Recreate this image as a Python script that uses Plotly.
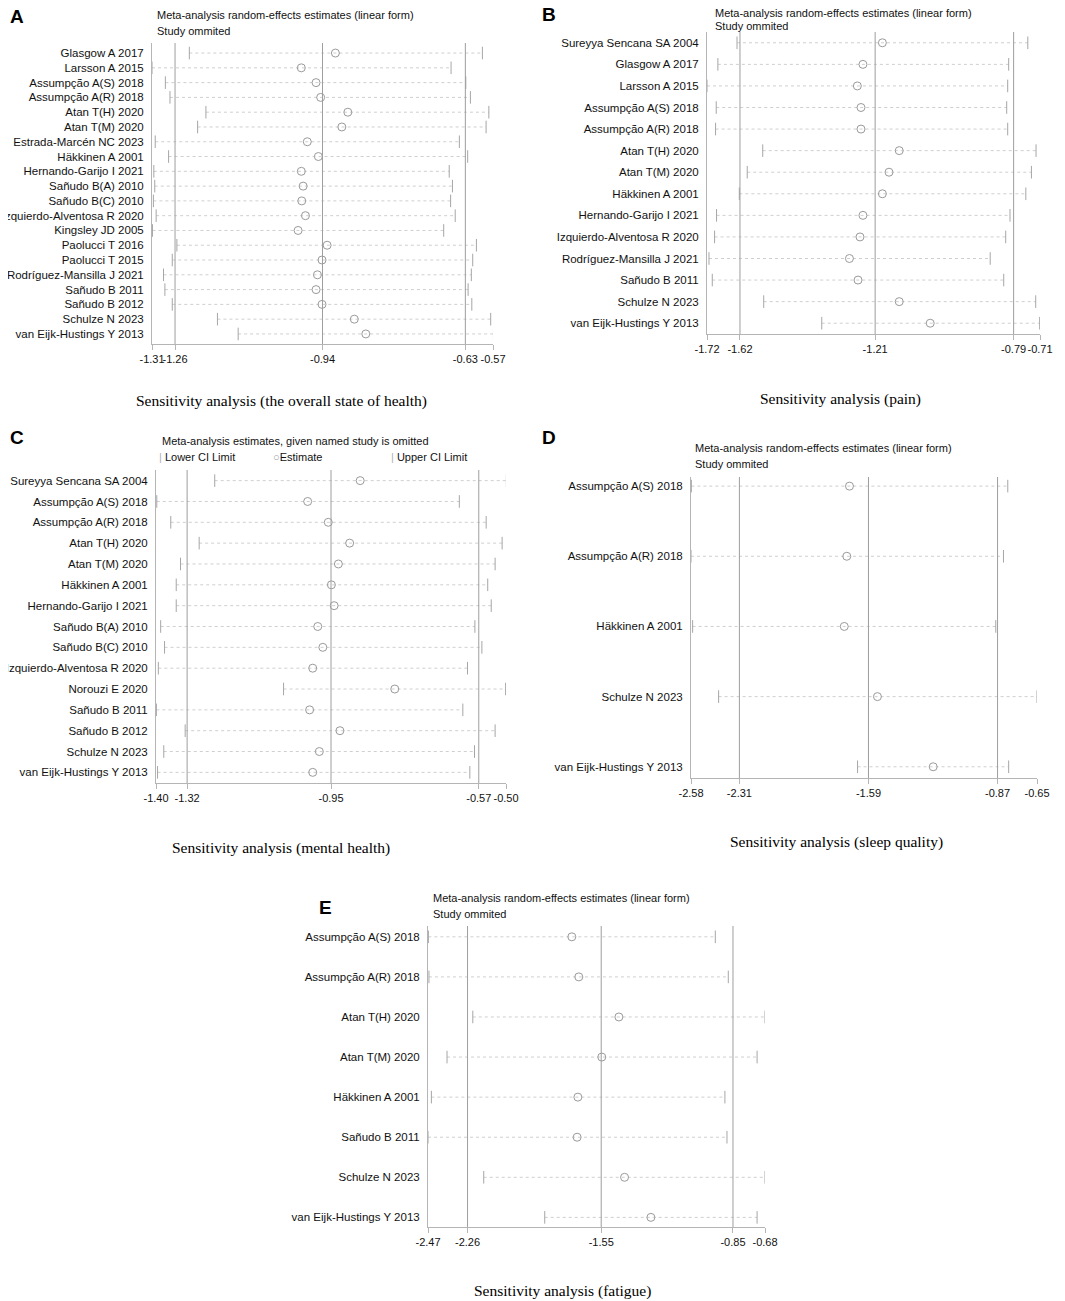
import plotly.graph_objects as go

# the page body adds an 8px margin, so the figure is drawn 8px smaller and
# every reference pixel position is shifted by OFF
OFF = 8
W, H = 1065 - OFF, 1301 - OFF

# ---- data (lower CI, estimate, upper CI) ----
# A: overall state of health
a_names = ["Glasgow A 2017", "Larsson A 2015", "Assumpção A(S) 2018", "Assumpção A(R) 2018",
           "Atan T(H) 2020", "Atan T(M) 2020", "Estrada-Marcén NC 2023", "Häkkinen A 2001",
           "Hernando-Garijo I 2021", "Sañudo B(A) 2010", "Sañudo B(C) 2010",
           "Izquierdo-Alventosa R 2020", "Kingsley JD 2005", "Paolucci T 2016", "Paolucci T 2015",
           "Rodríguez-Mansilla J 2021", "Sañudo B 2011", "Sañudo B 2012", "Schulze N 2023",
           "van Eijk-Hustings Y 2013"]
a_lower = [-1.229, -1.310, -1.281, -1.271, -1.193, -1.211, -1.303, -1.274, -1.306, -1.304,
           -1.307, -1.301, -1.309, -1.256, -1.266, -1.285, -1.282, -1.266, -1.168, -1.123]
a_est = [-0.912, -0.986, -0.954, -0.944, -0.885, -0.898, -0.973, -0.949, -0.986, -0.982,
         -0.985, -0.977, -0.993, -0.930, -0.941, -0.951, -0.954, -0.941, -0.871, -0.846]
a_upper = [-0.593, -0.661, -0.629, -0.619, -0.579, -0.585, -0.643, -0.625, -0.665, -0.658,
           -0.662, -0.652, -0.677, -0.606, -0.614, -0.617, -0.624, -0.616, -0.575, -0.569]
a_range = [-1.31, -0.57]
a_overall = [-1.26, -0.94, -0.63]

# B: pain
b_names = ["Sureyya Sencana SA 2004", "Glasgow A 2017", "Larsson A 2015", "Assumpção A(S) 2018",
           "Assumpção A(R) 2018", "Atan T(H) 2020", "Atan T(M) 2020", "Häkkinen A 2001",
           "Hernando-Garijo I 2021", "Izquierdo-Alventosa R 2020", "Rodríguez-Mansilla J 2021",
           "Sañudo B 2011", "Schulze N 2023", "van Eijk-Hustings Y 2013"]
b_lower = [-1.629, -1.687, -1.720, -1.692, -1.694, -1.551, -1.598, -1.622, -1.691, -1.697,
           -1.714, -1.704, -1.548, -1.372]
b_est = [-1.188, -1.247, -1.264, -1.253, -1.253, -1.137, -1.168, -1.188, -1.247, -1.256,
         -1.288, -1.262, -1.137, -1.043]
b_upper = [-0.747, -0.805, -0.808, -0.811, -0.808, -0.722, -0.736, -0.753, -0.801, -0.814,
           -0.861, -0.820, -0.723, -0.711]
b_range = [-1.72, -0.71]
b_overall = [-1.62, -1.21, -0.79]

# C: mental health
c_names = ["Sureyya Sencana SA 2004", "Assumpção A(S) 2018", "Assumpção A(R) 2018",
           "Atan T(H) 2020", "Atan T(M) 2020", "Häkkinen A 2001", "Hernando-Garijo I 2021",
           "Sañudo B(A) 2010", "Sañudo B(C) 2010", "Izquierdo-Alventosa R 2020", "Norouzi E 2020",
           "Sañudo B 2011", "Sañudo B 2012", "Schulze N 2023", "van Eijk-Hustings Y 2013"]
c_lower = [-1.249, -1.398, -1.362, -1.289, -1.337, -1.348, -1.348, -1.388, -1.378, -1.394,
           -1.072, -1.399, -1.325, -1.380, -1.396]
c_est = [-0.875, -1.010, -0.957, -0.902, -0.931, -0.949, -0.942, -0.984, -0.971, -0.997,
         -0.786, -1.005, -0.927, -0.980, -0.997]
c_upper = [-0.499, -0.620, -0.551, -0.510, -0.528, -0.547, -0.538, -0.580, -0.562, -0.599,
           -0.501, -0.611, -0.528, -0.581, -0.593]
c_range = [-1.40, -0.50]
c_overall = [-1.32, -0.95, -0.57]

# D: sleep quality
d_names = ["Assumpção A(S) 2018", "Assumpção A(R) 2018", "Häkkinen A 2001", "Schulze N 2023",
           "van Eijk-Hustings Y 2013"]
d_lower = [-2.578, -2.580, -2.571, -2.426, -1.651]
d_est = [-1.696, -1.711, -1.725, -1.540, -1.229]
d_upper = [-0.813, -0.837, -0.880, -0.650, -0.808]
d_range = [-2.58, -0.65]
d_overall = [-2.31, -1.59, -0.87]

# E: fatigue
e_names = ["Assumpção A(S) 2018", "Assumpção A(R) 2018", "Atan T(H) 2020", "Atan T(M) 2020",
           "Häkkinen A 2001", "Sañudo B 2011", "Schulze N 2023", "van Eijk-Hustings Y 2013"]
e_lower = [-2.468, -2.465, -2.232, -2.369, -2.452, -2.470, -2.174, -1.850]
e_est = [-1.706, -1.669, -1.456, -1.547, -1.674, -1.678, -1.426, -1.286]
e_upper = [-0.944, -0.875, -0.680, -0.722, -0.893, -0.882, -0.680, -0.722]
e_range = [-2.47, -0.68]
e_overall = [-2.26, -1.55, -0.85]

title_re = ["Meta-analysis random-effects estimates (linear form)", "Study ommited"]
title_c = ["Meta-analysis estimates, given named study is omitted"]

# panel placement in reference pixels: plot left/right, top/bottom, padding (rows) top/bottom
panels = [
    dict(letter="A", names=a_names, lo=a_lower, est=a_est, hi=a_upper, rng=a_range, ov=a_overall,
         box=(152, 493, 43, 344), pad=(0.68, 0.68), title=title_re, tpos=(155, 15), tgap=16,
         lpos=(8, 16), cap="Sensitivity analysis (the overall state of health)", cpos=(281, 401)),
    dict(letter="B", names=b_names, lo=b_lower, est=b_est, hi=b_upper, rng=b_range, ov=b_overall,
         box=(707, 1040, 32, 334), pad=(0.5, 0.5), title=title_re, tpos=(713, 13), tgap=13,
         lpos=(540, 14), cap="Sensitivity analysis (pain)", cpos=(840, 399)),
    dict(letter="C", names=c_names, lo=c_lower, est=c_est, hi=c_upper, rng=c_range, ov=c_overall,
         box=(156, 506, 470, 783), pad=(0.51, 0.51), title=title_c, tpos=(160, 441), tgap=16,
         lpos=(8, 437), cap="Sensitivity analysis (mental health)", cpos=(281, 848)),
    dict(letter="D", names=d_names, lo=d_lower, est=d_est, hi=d_upper, rng=d_range, ov=d_overall,
         box=(691, 1037, 477, 778), pad=(0.13, 0.16), title=title_re, tpos=(693, 448), tgap=16,
         lpos=(540, 437), cap="Sensitivity analysis (sleep quality)", cpos=(836, 842)),
    dict(letter="E", names=e_names, lo=e_lower, est=e_est, hi=e_upper, rng=e_range, ov=e_overall,
         box=(428, 765, 926, 1227), pad=(0.27, 0.24), title=title_re, tpos=(431, 898), tgap=16,
         lpos=(317, 907), cap="Sensitivity analysis (fatigue)", cpos=(562, 1291)),
]


def px(x):
    return (x - OFF) / W


def py(y):
    return 1 - (y - OFF) / H


SANS = "Arial, Liberation Sans, sans-serif"
SERIF = "Times New Roman, Liberation Serif, serif"
GREY = "#a6a6a6"

fig = go.Figure()
annotations = []
shapes = []

for i, p in enumerate(panels):
    k = "" if i == 0 else str(i + 1)
    xa, ya = "x" + k, "y" + k
    n = len(p["names"])
    rows = list(range(n))
    x0, x1, yt, yb = p["box"]

    # CI segments
    seg_x, seg_y = [], []
    for r in rows:
        seg_x += [p["lo"][r], p["hi"][r], None]
        seg_y += [r, r, None]
    fig.add_trace(go.Scatter(x=seg_x, y=seg_y, mode="lines", xaxis=xa, yaxis=ya,
                             line=dict(color="#cfcfcf", width=1, dash="dot"), showlegend=False))
    fig.add_trace(go.Scatter(x=p["lo"] + p["hi"], y=rows + rows, mode="markers", xaxis=xa, yaxis=ya,
                             marker=dict(symbol="line-ns-open", size=9, color=GREY,
                                         line=dict(color=GREY, width=1)), showlegend=False))
    fig.add_trace(go.Scatter(x=p["est"], y=rows, mode="markers", xaxis=xa, yaxis=ya,
                             marker=dict(symbol="circle-open", size=8, color="#9a9a9a",
                                         line=dict(color="#9a9a9a", width=1)), showlegend=False))

    for v in p["ov"]:
        shapes.append(dict(type="line", xref=xa, yref=ya + " domain", x0=v, x1=v, y0=0, y1=1,
                           line=dict(color="#9e9e9e", width=1)))

    ticks = [p["rng"][0]] + p["ov"] + [p["rng"][1]]
    fig.update_layout(**{
        "xaxis" + k: dict(domain=[px(x0), px(x1)], anchor=ya, range=p["rng"], tickvals=ticks,
                          ticktext=["%.2f" % t for t in ticks], showgrid=False, zeroline=False,
                          showline=True, linecolor="#b5b5b5", ticks="outside", ticklen=5,
                          tickcolor="#b5b5b5", tickangle=0, automargin=False,
                          tickfont=dict(family=SANS, size=11, color="#111")),
        "yaxis" + k: dict(domain=[py(yb), py(yt)], anchor=xa,
                          range=[n - 1 + p["pad"][1], -p["pad"][0]], tickvals=rows,
                          ticktext=p["names"], showgrid=False, zeroline=False, showline=True,
                          linecolor="#b5b5b5", ticks="", ticklabelstandoff=5, automargin=False,
                          tickfont=dict(family=SANS, size=11.5, color="#111")),
    })

    tx, ty = p["tpos"]
    for j, line in enumerate(p["title"]):
        annotations.append(dict(text=line, x=px(tx), y=py(ty + p["tgap"] * j), xref="paper",
                                yref="paper", xanchor="left", yanchor="middle", showarrow=False,
                                font=dict(family=SANS, size=11, color="#111")))
    lx, ly = p["lpos"]
    annotations.append(dict(text="<b>%s</b>" % p["letter"], x=px(lx), y=py(ly), xref="paper",
                            yref="paper", xanchor="left", yanchor="middle", showarrow=False,
                            font=dict(family=SANS, size=19, color="#000")))
    cx, cy = p["cpos"]
    annotations.append(dict(text=p["cap"], x=px(cx), y=py(cy), xref="paper", yref="paper",
                            xanchor="center", yanchor="middle", showarrow=False,
                            font=dict(family=SERIF, size=15.5, color="#000")))

# legend row of panel C
bar = '<span style="color:#b0b0b0">|</span> '
for txt, lx in [(bar + "Lower CI Limit", 157), ('<span style="color:#9a9a9a">○</span>Estimate', 271),
                (bar + "Upper CI Limit", 389)]:
    annotations.append(dict(text=txt, x=px(lx), y=py(457), xref="paper", yref="paper",
                            xanchor="left", yanchor="middle", showarrow=False,
                            font=dict(family=SANS, size=11, color="#111")))

fig.update_layout(width=W, height=H, margin=dict(l=0, r=0, t=0, b=0), plot_bgcolor="white",
                  paper_bgcolor="white", annotations=annotations, shapes=shapes, showlegend=False)

fig.write_html("out.html")
